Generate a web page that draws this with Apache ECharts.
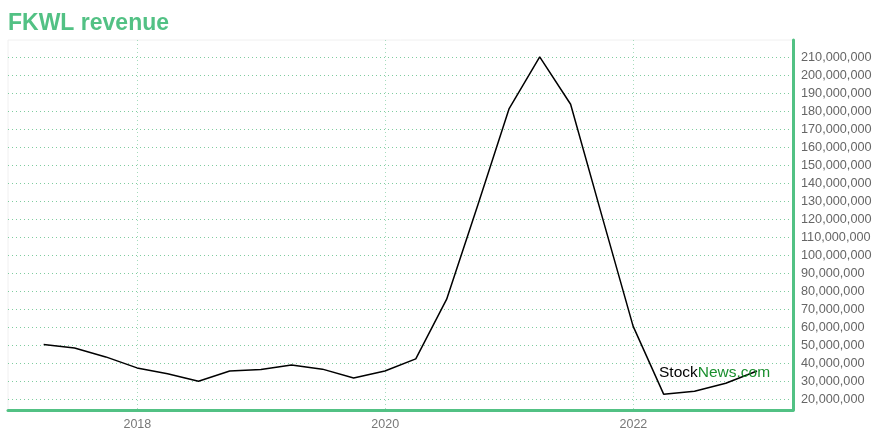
<!DOCTYPE html>
<html><head><meta charset="utf-8">
<script src="https://cdn.jsdelivr.net/npm/echarts@6/dist/echarts.min.js"></script>
<style>html,body{margin:0;padding:0;background:#fff}#c{width:880px;height:440px}</style>
</head><body><div id="c"></div>
<script>
const dates = ['2017-03-31','2017-06-30','2017-09-30','2017-12-31','2018-03-31','2018-06-30','2018-09-30','2018-12-31','2019-03-31','2019-06-30','2019-09-30','2019-12-31','2020-03-31','2020-06-30','2020-09-30','2020-12-31','2021-03-31','2021-06-30','2021-09-30','2021-12-31','2022-03-31','2022-06-30','2022-09-30','2022-12-31'];
const revenue = [50400000,48500000,43500000,37400000,34200000,30000000,35700000,36500000,39000000,36700000,31800000,35700000,42400000,75600000,128000000,181500000,210200000,183900000,122000000,60600000,22800000,24400000,28900000,35700000];
const xTicks = ['2018-01-01','2020-01-01','2022-01-01'];
const yTicks = [20000000,30000000,40000000,50000000,60000000,70000000,80000000,90000000,100000000,110000000,120000000,130000000,140000000,150000000,160000000,170000000,180000000,190000000,200000000,210000000];
const title = 'FKWL revenue';

const ms = d => Date.parse(d + 'T00:00:00Z');
const green = '#52c184';
const font = 'Liberation Sans, Arial, sans-serif';
const chart = echarts.init(document.getElementById('c'), null, {renderer:'canvas'});
chart.setOption({
  animation:false,
  title:{text:title,left:3,top:7,textStyle:{color:green,fontSize:23,fontWeight:'bold',fontFamily:font}},
  grid:{left:8,right:87,top:40,bottom:30,show:true,borderWidth:1,borderColor:'#f0f0f0'},
  xAxis:{type:'value',min:ms('2016-12-16'),max:ms('2023-04-16'),
    axisLine:{show:true,onZero:false,lineStyle:{color:green,width:3}},
    axisTick:{show:false,customValues:xTicks.map(ms)},
    axisLabel:{customValues:xTicks.map(ms),color:'#777',fontSize:12.5,fontFamily:font,margin:8,
      formatter:v=>String(new Date(v).getUTCFullYear())},
    splitLine:{show:true,lineStyle:{color:'#a6dcbd',type:[1,3],width:1}}
  },
  yAxis:{type:'value',position:'right',min:14000000,max:219600000,
    axisLine:{show:true,onZero:false,lineStyle:{color:green,width:3}},
    axisTick:{show:false,customValues:yTicks},
    axisLabel:{customValues:yTicks,color:'#666',fontSize:12.7,fontFamily:font,margin:8,
      formatter:v=>v.toLocaleString('en-US')},
    splitLine:{show:true,lineStyle:{color:'#7fcc9f',type:[1,3],width:1}}
  },
  graphic:[{type:'text',left:659,top:365,z:100,style:{
    text:'{a|Stock}{b|News.com}',
    rich:{a:{fill:'#000',fontSize:15.5,fontFamily:font},b:{fill:'#1a8f2e',fontSize:15.5,fontFamily:font}}
  }}],
  series:[{type:'line',data:dates.map((d,i)=>[ms(d),revenue[i]]),showSymbol:false,
    lineStyle:{color:'#000',width:1.5},itemStyle:{color:'#000'}}]
});
</script></body></html>
